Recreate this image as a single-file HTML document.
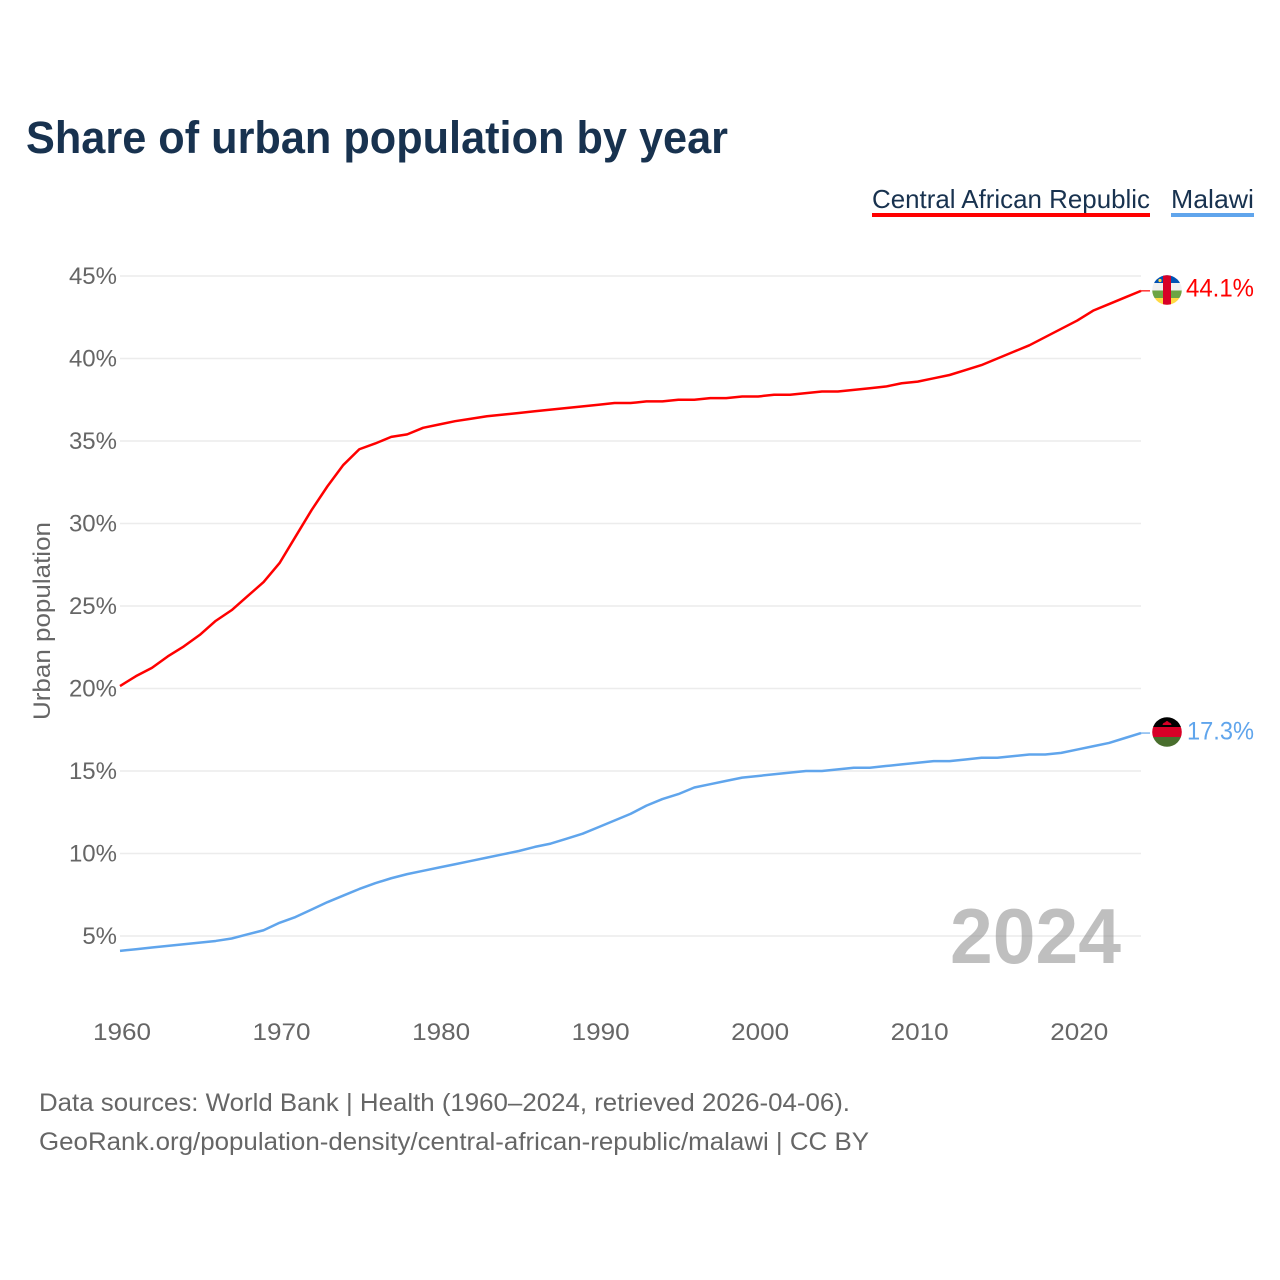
<!DOCTYPE html>
<html lang="en">
<head>
<meta charset="utf-8">
<title>Share of urban population by year</title>
<style>
html,body{margin:0;padding:0;background:#fff;}
svg{display:block;font-family:"Liberation Sans",sans-serif;}
</style>
</head>
<body>
<svg id="chart" width="1280" height="1280" viewBox="0 0 1280 1280" xmlns="http://www.w3.org/2000/svg">
  <rect x="0" y="0" width="1280" height="1280" fill="#ffffff"/>
  <text x="26" y="153" font-size="45" font-weight="700" fill="#18324f" textLength="702" lengthAdjust="spacingAndGlyphs">Share of urban population by year</text>

  <g>
    <g>
      <text x="872" y="208" font-size="26" fill="#18324f" textLength="278" lengthAdjust="spacingAndGlyphs">Central African Republic</text>
      <rect x="872" y="213" width="278" height="4" fill="#ff0000"/>
    </g>
    <g>
      <text x="1171" y="208" font-size="26" fill="#18324f" textLength="83" lengthAdjust="spacingAndGlyphs">Malawi</text>
      <rect x="1171" y="213" width="83" height="4" fill="#60a5ec"/>
    </g>
  </g>

  <g id="grid"></g>
  <g id="yticks"></g>
  <g id="xticks"></g>

  <text transform="translate(50,720) rotate(-90)" font-size="24" fill="#666666" textLength="198" lengthAdjust="spacingAndGlyphs">Urban population</text>

  <text id="yearLabel" x="950" y="963" font-size="78" font-weight="700" fill="#808080" fill-opacity="0.5" textLength="171" lengthAdjust="spacingAndGlyphs">2024</text>

  <g id="series"></g>

  <defs>
    <clipPath id="flagClipCaf"><circle id="cafClipCircle" cx="1167" cy="290" r="14.8"/></clipPath>
    <clipPath id="flagClipMwi"><circle id="mwiClipCircle" cx="1167" cy="732" r="14.8"/></clipPath>
  </defs>
  <g id="flagCaf" clip-path="url(#flagClipCaf)">
    <rect x="1152" y="275" width="30" height="8" fill="#0052b4"/>
    <rect x="1152" y="283" width="30" height="7.5" fill="#f0f0f0"/>
    <rect x="1152" y="290.5" width="30" height="7.5" fill="#6da544"/>
    <rect x="1152" y="298" width="30" height="7" fill="#ffda44"/>
    <rect x="1163" y="275" width="8" height="30" fill="#d80027"/>
    <circle cx="1160" cy="280.5" r="1.6" fill="#ffda44"/>
  </g>
  <g id="flagMwi" clip-path="url(#flagClipMwi)">
    <rect x="1152" y="717" width="30" height="10" fill="#000000"/>
    <rect x="1152" y="727" width="30" height="10" fill="#d80027"/>
    <rect x="1152" y="737" width="30" height="10" fill="#496e2d"/>
    <path d="M1162.5 725 Q1163 722.5 1165 722.5 Q1167 719.5 1169 722.5 Q1171 722.5 1171.5 725 Z" fill="#d80027"/>
  </g>

  <text id="endCaf" x="1186" y="297" font-size="25" fill="#ff0000" textLength="68" lengthAdjust="spacingAndGlyphs"></text>
  <text id="endMwi" x="1187" y="739" font-size="25" fill="#60a5ec" textLength="67" lengthAdjust="spacingAndGlyphs"></text>

  <text x="39" y="1111" font-size="25" fill="#666666" textLength="811" lengthAdjust="spacingAndGlyphs">Data sources: World Bank | Health (1960–2024, retrieved 2026-04-06).</text>
  <text x="39" y="1150" font-size="25" fill="#666666" textLength="830" lengthAdjust="spacingAndGlyphs">GeoRank.org/population-density/central-african-republic/malawi | CC BY</text>
</svg>
<script>
const startYear = 1960;
const yTickValues = [5, 10, 15, 20, 25, 30, 35, 40, 45];
const xTickYears = [1960, 1970, 1980, 1990, 2000, 2010, 2020];
const cafValues = [20.15, 20.75, 21.25, 21.95, 22.55, 23.25, 24.1, 24.75, 25.6, 26.45,
  27.6, 29.2, 30.8, 32.25, 33.55, 34.5, 34.85, 35.25, 35.4, 35.8,
  36.0, 36.2, 36.35, 36.5, 36.6, 36.7, 36.8, 36.9, 37.0, 37.1,
  37.2, 37.3, 37.3, 37.4, 37.4, 37.5, 37.5, 37.6, 37.6, 37.7,
  37.7, 37.8, 37.8, 37.9, 38.0, 38.0, 38.1, 38.2, 38.3, 38.5,
  38.6, 38.8, 39.0, 39.3, 39.6, 40.0, 40.4, 40.8, 41.3, 41.8,
  42.3, 42.9, 43.3, 43.7, 44.1];
const malawiValues = [4.1, 4.2, 4.3, 4.4, 4.5, 4.6, 4.7, 4.85, 5.1, 5.35,
  5.8, 6.15, 6.6, 7.05, 7.45, 7.85, 8.2, 8.5, 8.75, 8.95,
  9.15, 9.35, 9.55, 9.75, 9.95, 10.15, 10.4, 10.6, 10.9, 11.2,
  11.6, 12.0, 12.4, 12.9, 13.3, 13.6, 14.0, 14.2, 14.4, 14.6,
  14.7, 14.8, 14.9, 15.0, 15.0, 15.1, 15.2, 15.2, 15.3, 15.4,
  15.5, 15.6, 15.6, 15.7, 15.8, 15.8, 15.9, 16.0, 16.0, 16.1,
  16.3, 16.5, 16.7, 17.0, 17.3];

const NS = 'http://www.w3.org/2000/svg';
function xScale(year) { return 120 + (year - 1960) * (1021 / 64); }
function yScale(value) { return 936 - (value - 5) * 16.5; }

function make(tag, parent, attrs) {
  const el = document.createElementNS(NS, tag);
  for (const k in attrs) el.setAttribute(k, attrs[k]);
  parent.appendChild(el);
  return el;
}

const grid = document.getElementById('grid');
const yticks = document.getElementById('yticks');
const xticks = document.getElementById('xticks');
const series = document.getElementById('series');

yTickValues.forEach(function (v) {
  const line = make('line', grid, { x1: 120, x2: 1141, y1: yScale(v), y2: yScale(v), stroke: '#ececec', 'stroke-width': 1.5 });
  
  
  const label = make('text', yticks, { x: 117, y: yScale(v) + 8, 'font-size': 24, fill: '#666666', 'text-anchor': 'end' });
  
  
  label.textContent = v + '%';
});

xTickYears.forEach(function (y) {
  const label = make('text', xticks, { x: xScale(y) - 27, y: 1040, 'font-size': 24, fill: '#666666', textLength: 58, lengthAdjust: 'spacingAndGlyphs' });
  
  
  label.textContent = y;
});

function linePoints(values) {
  return values.map(function (v, i) {
    return xScale(startYear + i).toFixed(2) + ',' + yScale(v).toFixed(2);
  }).join(' ');
}

const cafLine = make('polyline', series, { points: linePoints(cafValues), fill: 'none', stroke: '#ff0000', 'stroke-width': 2.5, 'stroke-linejoin': 'round' });


const malawiLine = make('polyline', series, { points: linePoints(malawiValues), fill: 'none', stroke: '#60a5ec', 'stroke-width': 2.5, 'stroke-linejoin': 'round' });



const cafLast = cafValues[cafValues.length - 1];
const malawiLast = malawiValues[malawiValues.length - 1];
const lastX = xScale(startYear + cafValues.length - 1);

const cafConnector = make('line', series, { x1: lastX, x2: 1150, y1: yScale(cafLast), y2: yScale(cafLast), stroke: '#ff0000', 'stroke-width': 1.2 });


const malawiConnector = make('line', series, { x1: lastX, x2: 1150, y1: yScale(malawiLast), y2: yScale(malawiLast), stroke: '#60a5ec', 'stroke-width': 1.2 });



document.getElementById('endCaf').textContent = cafLast.toFixed(1) + '%';
document.getElementById('endCaf').setAttribute('y', yScale(cafLast) + 5.5);
document.getElementById('endMwi').textContent = malawiLast.toFixed(1) + '%';
document.getElementById('endMwi').setAttribute('y', yScale(malawiLast) + 6.5);
</script>
</body>
</html>
